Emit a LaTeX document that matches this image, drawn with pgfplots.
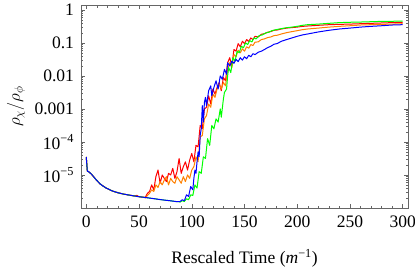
\documentclass[border=0pt]{standalone}
\usepackage{fontspec}
\setmainfont{Liberation Serif}
\usepackage{pgfplots}
\pgfplotsset{compat=1.18}
\begin{document}
\fontsize{17.6}{21}\selectfont
\begin{tikzpicture}
\begin{axis}[
  scale only axis, width=327bp, height=203bp,
  xmin=-5, xmax=305, ymode=log, ymin=1e-6, ymax=1.4,
  xtick={0,50,100,150,200,250,300},
  xticklabels={0,50,100,150,200,250,300},
  minor xtick={10,20,30,40,60,70,80,90,110,120,130,140,160,170,180,190,210,220,230,240,260,270,280,290},
  ytick={1e-5,1e-4,1e-3,1e-2,1e-1,1},
  yticklabels={10\textsuperscript{−5},10\textsuperscript{−4},0.001,0.01,0.1,1},
  minor ytick={2e-6,3e-6,4e-6,5e-6,6e-6,7e-6,8e-6,9e-6,2e-5,3e-5,4e-5,5e-5,6e-5,7e-5,8e-5,9e-5,2e-4,3e-4,4e-4,5e-4,6e-4,7e-4,8e-4,9e-4,2e-3,3e-3,4e-3,5e-3,6e-3,7e-3,8e-3,9e-3,2e-2,3e-2,4e-2,5e-2,6e-2,7e-2,8e-2,9e-2,0.2,0.3,0.4,0.5,0.6,0.7,0.8,0.9},
  major tick length=4bp, minor tick length=2.5bp,
  axis line style={black!60, line width=0.6bp},
  every tick/.style={black!60, line width=0.5bp},
  tick label style={font=\fontsize{17.6}{21}\selectfont},
  xticklabel style={yshift=-2bp},
  yticklabel style={xshift=-1bp},
  xlabel={Rescaled Time (\textit{m}\textsuperscript{−1})},
  ylabel={$\rho_\chi/\rho_\phi$},
  every axis x label/.style={at={(axis description cs:0.5,-0.246)}, anchor=center, font=\fontsize{17.6}{21}\selectfont},
  every axis y label/.style={at={(axis description cs:-0.199,0.5)}, anchor=center, rotate=90, font=\fontsize{17.6}{21}\selectfont},
  every axis plot/.append style={line width=1.0bp, no markers, line join=round},
]
\coordinate (bl) at (rel axis cs:0,0);
\coordinate (tr) at (rel axis cs:1,1);
% red
\addplot[red] coordinates {
(0,3.5e-5) (1,1.3e-5) (2,1.27e-5) (3,1.2e-5) (5,1.05e-5) (7,8.8e-6) (9,7.4e-6) (11,6.3e-6) (13,5.4e-6) (16,4.6e-6) (19,4.0e-6) (22,3.6e-6) (25,3.25e-6) (30,2.9e-6) (35,2.65e-6) (40,2.48e-6) (45,2.33e-6) (48,2.4e-6) (50,2.2e-6) (55,2.1e-6)
(56,2.1e-6) (58,2.8e-6) (60,3.16e-6) (62,5.0e-6) (64,3.55e-6) (66,8.9e-6) (68,1.41e-5) (70,5.6e-6) (72,1.0e-5) (74,7.9e-6) (76,6.3e-6) (78,1.12e-5) (80,1.0e-5) (82,1.58e-5) (84,7.9e-6) (86,1.26e-5) (88,3.16e-5) (90,1.12e-5) (92,1.78e-5) (94,2.5e-5) (96,1.41e-5) (98,2.8e-5) (100,4.47e-5) (102,2.5e-5) (104,7.9e-5) (106,7.1e-5)
(108,3.16e-4) (110,2.5e-4) (112,1.0e-3) (114,1.12e-3) (116,2.5e-3) (118,1.41e-3) (120,4.0e-3) (122,2.8e-3) (124,4.47e-3) (126,6.3e-3) (128,3.55e-3) (130,8.9e-3) (132,7.1e-3) (134,2.5e-2) (136,3.55e-2) (138,2.0e-2) (140,6.3e-2)
(142,5.6e-2) (144,9.5e-2) (146,7.6e-2) (148,0.112) (150,0.095) (152,0.126) (154,0.11) (156,0.141) (158,0.126) (160,0.158) (163,0.151) (166,0.182) (169,0.19) (172,0.21) (175,0.22) (178,0.24) (181,0.245) (185,0.263) (190,0.28) (195,0.29) (200,0.30) (205,0.316) (210,0.324) (220,0.34) (230,0.355) (240,0.363) (250,0.37) (260,0.38) (270,0.39) (280,0.40) (290,0.41) (300,0.42)
};
% orange
\addplot[orange] coordinates {
(0,3.5e-5) (1,1.3e-5) (2,1.27e-5) (3,1.2e-5) (5,1.05e-5) (7,8.8e-6) (9,7.4e-6) (11,6.3e-6) (13,5.4e-6) (16,4.6e-6) (19,4.0e-6) (22,3.6e-6) (25,3.25e-6) (30,2.9e-6) (35,2.65e-6) (40,2.48e-6) (45,2.33e-6) (50,2.2e-6) (55,2.1e-6)
(56,2.0e-6) (58,2.4e-6) (60,2.8e-6) (62,3.55e-6) (64,3.16e-6) (66,5.0e-6) (68,4.2e-6) (70,6.3e-6) (72,5.0e-6) (74,7.1e-6) (76,8.9e-6) (78,5.0e-6) (80,7.9e-6) (82,6.3e-6) (84,5.6e-6) (86,8.9e-6) (88,7.1e-6) (90,5.6e-6) (92,8.9e-6) (94,6.3e-6) (96,1.0e-5) (98,7.9e-6) (100,1.41e-5) (102,1.78e-5) (104,3.55e-5) (106,2.5e-5)
(108,1.41e-4) (110,1.58e-4) (112,5.0e-4) (114,6.3e-4) (116,1.41e-3) (118,1.12e-3) (120,2.8e-3) (122,2.24e-3) (124,4.0e-3) (126,5.6e-3) (128,4.0e-3) (130,6.3e-3) (132,5.0e-3) (134,1.58e-2) (136,2.5e-2) (138,1.78e-2) (140,4.47e-2)
(142,3.8e-2) (144,6.0e-2) (146,5.0e-2) (148,6.6e-2) (150,5.6e-2) (152,7.6e-2) (154,6.9e-2) (156,8.9e-2) (158,8.3e-2) (160,0.105) (163,0.107) (166,0.126) (169,0.132) (172,0.145) (175,0.151) (178,0.166) (181,0.17) (185,0.186) (190,0.204) (195,0.219) (200,0.234) (205,0.251) (210,0.263) (220,0.28) (230,0.30) (240,0.316) (250,0.33) (260,0.347) (270,0.355) (280,0.363) (290,0.37) (300,0.38)
};
% green
\addplot[green] coordinates {
(0,3.5e-5) (1,1.3e-5) (2,1.27e-5) (3,1.2e-5) (5,1.05e-5) (7,8.8e-6) (9,7.4e-6) (11,6.3e-6) (13,5.4e-6) (16,4.6e-6) (19,4.0e-6) (22,3.6e-6) (25,3.25e-6) (30,2.9e-6) (35,2.65e-6) (40,2.48e-6) (45,2.33e-6) (50,2.2e-6) (55,2.1e-6) (60,2.0e-6) (65,1.9e-6) (70,1.8e-6) (75,1.72e-6) (80,1.65e-6) (85,1.57e-6) (88,1.55e-6)
(89,1.51e-6) (91,1.66e-6) (93,1.58e-6) (95,1.9e-6) (97,1.78e-6) (99,2.5e-6) (101,2.4e-6) (103,5.0e-6) (105,4.0e-6) (107,1.26e-5) (109,1.12e-5) (111,3.55e-5) (113,3.16e-5) (115,1.26e-4) (117,7.9e-5) (119,3.16e-4) (121,2.5e-4) (123,5.0e-4) (125,4.0e-4) (127,1.0e-3) (128,5.6e-4) (130,2.0e-3) (131,3.16e-3) (133,4.0e-3) (134,1.0e-2) (135,1.78e-2) (137,1.26e-2) (139,3.55e-2) (141,2.8e-2) (143,5.6e-2) (145,5.0e-2) (147,7.9e-2)
(149,7.1e-2) (151,0.1) (153,8.9e-2) (155,0.117) (157,0.107) (159,0.141) (161,0.132) (164,0.166) (167,0.174) (170,0.2) (173,0.21) (176,0.234) (180,0.251) (185,0.27) (190,0.288) (195,0.30) (200,0.316) (205,0.34) (210,0.355) (220,0.37) (230,0.39) (240,0.41) (250,0.42) (260,0.427) (270,0.437) (280,0.447) (290,0.45) (300,0.457)
};
% blue
\addplot[blue] coordinates {
(0,3.5e-5) (1,1.3e-5) (2,1.27e-5) (3,1.2e-5) (5,1.05e-5) (7,8.8e-6) (9,7.4e-6) (11,6.3e-6) (13,5.4e-6) (16,4.6e-6) (19,4.0e-6) (22,3.6e-6) (25,3.25e-6) (30,2.9e-6) (35,2.65e-6) (40,2.48e-6) (45,2.33e-6) (50,2.2e-6) (55,2.1e-6) (60,2.0e-6) (65,1.9e-6) (70,1.8e-6) (75,1.72e-6) (80,1.65e-6) (85,1.57e-6) (88,1.55e-6)
(89,1.58e-6) (91,1.78e-6) (93,1.66e-6) (95,2.5e-6) (97,2.24e-6) (99,4.47e-6) (101,3.55e-6) (102,7.9e-6) (103,1.41e-5) (104,1.12e-5) (105,2.5e-5) (106,5.0e-5) (107,3.55e-5) (108,1.58e-4) (109,2.5e-4) (110,1.26e-3) (111,4.0e-4) (112,1.58e-3) (113,2.24e-3) (114,1.26e-3) (116,3.55e-3) (118,5.0e-3) (119,2.5e-3) (121,4.47e-3) (123,7.1e-3) (125,4.0e-3) (127,1.0e-2) (129,7.9e-3) (131,1.58e-2) (133,1.12e-2) (134,2.5e-2) (136,2.0e-2) (138,2.8e-2) (140,2.4e-2) (142,3.16e-2) (144,2.7e-2) (146,3.55e-2)
(148,3.0e-2) (150,3.8e-2) (152,3.3e-2) (154,4.2e-2) (156,3.8e-2) (158,4.7e-2) (160,4.4e-2) (163,5.2e-2) (166,5.6e-2) (169,6.3e-2) (172,7.2e-2) (175,7.9e-2) (178,9.1e-2) (181,9.5e-2) (185,0.112) (190,0.126) (195,0.141) (200,0.158) (205,0.174) (210,0.186) (220,0.214) (230,0.24) (240,0.263) (250,0.28) (260,0.30) (270,0.316) (280,0.33) (290,0.347) (300,0.355)
};
\end{axis}
\pgfresetboundingbox
\path[use as bounding box] ([xshift=-81bp,yshift=-59bp]bl) rectangle ([xshift=7bp,yshift=5bp]tr);
\end{tikzpicture}
\end{document}
